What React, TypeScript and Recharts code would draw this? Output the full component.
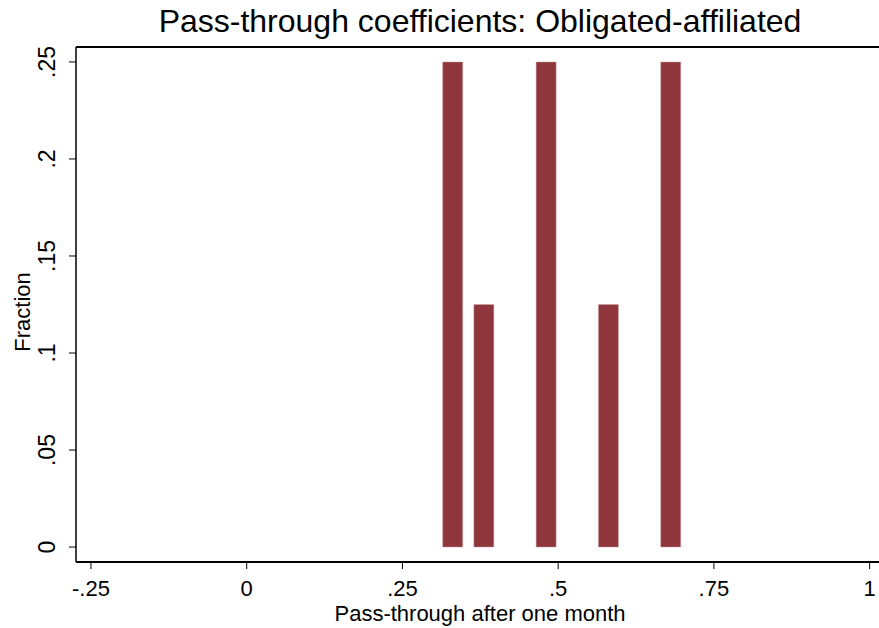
import { ComposedChart, Bar, XAxis, YAxis, ReferenceLine } from 'recharts';

// histogram bins (bin centre) and the fraction in each
const binCenters = [0.33, 0.38, 0.48, 0.58, 0.68];
const fractions = [0.25, 0.125, 0.25, 0.125, 0.25];

const xTicks = [-0.25, 0, 0.25, 0.5, 0.75, 1];
const xTickLabels = ['-.25', '0', '.25', '.5', '.75', '1'];
const yTicks = [0, 0.05, 0.1, 0.15, 0.2, 0.25];
const yTickLabels = ['0', '.05', '.1', '.15', '.2', '.25'];

const chartData = binCenters.map((x, i) => ({ x, fraction: fractions[i] }));

const FONT = '"Liberation Sans", Arial, sans-serif';
const BAR_COLOR = '#8f353c';
const Y_MAX = 0.2577;

function XTick(props: any) {
  const { x, y, index } = props;
  return (
    <text x={x} y={y + 27} textAnchor="middle" fontSize={22} fontFamily={FONT} fill="#000">
      {xTickLabels[index]}
    </text>
  );
}

function YTick(props: any) {
  const { x, y, index } = props;
  const bx = x - 14;
  return (
    <text
      x={bx}
      y={y}
      textAnchor="middle"
      fontSize={23}
      fontFamily={FONT}
      fill="#000"
      transform={`rotate(-90, ${bx}, ${y})`}
    >
      {yTickLabels[index]}
    </text>
  );
}

function App() {
  return (
    <div style={{ position: 'absolute', left: 0, top: 0, width: 879, height: 628, background: '#fff' }}>
      <ComposedChart
        width={879}
        height={628}
        data={chartData}
        margin={{ top: 47, right: 0, bottom: 0, left: 0 }}
      >
        <XAxis
          type="number"
          dataKey="x"
          domain={[-0.274, 1.015]}
          allowDataOverflow
          ticks={xTicks}
          tick={<XTick />}
          tickSize={7}
          tickMargin={0}
          height={66}
          interval={0}
          axisLine={{ stroke: '#000', strokeWidth: 2 }}
          tickLine={{ stroke: '#000' }}
          label={{
            content: () => (
              <text x={480} y={621} textAnchor="middle" fontSize={22} fontFamily={FONT} fill="#000">
                Pass-through after one month
              </text>
            ),
          }}
        />
        <YAxis
          type="number"
          domain={[-0.0077, Y_MAX]}
          allowDataOverflow
          ticks={yTicks}
          tick={<YTick />}
          tickSize={7}
          tickMargin={0}
          width={76}
          interval={0}
          axisLine={{ stroke: '#000', strokeWidth: 1.5 }}
          tickLine={{ stroke: '#000' }}
          label={{
            content: () => (
              <g>
                <text x={480} y={32} textAnchor="middle" fontSize={32} fontFamily={FONT} fill="#000">
                  Pass-through coefficients: Obligated-affiliated
                </text>
                <text
                  x={30}
                  y={312}
                  textAnchor="middle"
                  fontSize={22}
                  fontFamily={FONT}
                  fill="#000"
                  transform="rotate(-90, 30, 312)"
                >
                  Fraction
                </text>
              </g>
            ),
          }}
        />
        <ReferenceLine y={Y_MAX} stroke="#000" strokeWidth={2} ifOverflow="visible" />
        <Bar
          dataKey="fraction"
          fill={BAR_COLOR}
          stroke="#c9a3a6"
          strokeWidth={0.5}
          barSize={20}
          isAnimationActive={false}
        />
      </ComposedChart>
    </div>
  );
}

export default App;
